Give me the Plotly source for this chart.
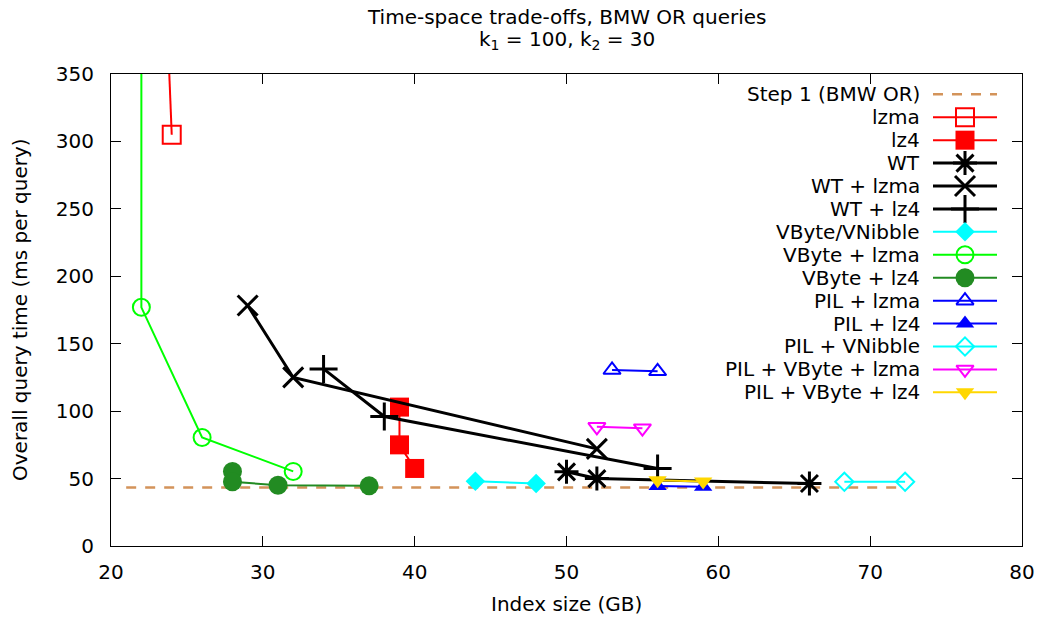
import plotly.graph_objects as go

# ---- data: index size (GB) vs overall query time (ms per query) ----
step1_x = [21, 72.2]
step1_y = [43.4, 43.4]

lzma_x = [23, 24]
lzma_y = [585, 305]

lz4_x = [39, 39, 40]
lz4_y = [103, 75, 57.5]

wt_x = [50, 52, 66]
wt_y = [55, 50, 46.3]

wt_lzma_x = [29, 32, 52]
wt_lzma_y = [178.3, 125, 72]

wt_lz4_x = [34, 38, 56]
wt_lz4_y = [131.3, 96, 57.5]

vbyte_x = [44, 48]
vbyte_y = [48.1, 46.3]

vbyte_lzma_x = [22, 22, 26, 32]
vbyte_lzma_y = [600, 177, 80.5, 55.3]

vbyte_lz4_x = [28, 28, 31, 37]
vbyte_lz4_y = [55.2, 47.6, 45.1, 44.6]

pil_lzma_x = [53, 56]
pil_lzma_y = [130.5, 129.5]

pil_lz4_x = [56, 59]
pil_lz4_y = [44.5, 44]

pil_vnibble_x = [68.3, 72.3]
pil_vnibble_y = [47.6, 47.6]

pil_vbyte_lzma_x = [52, 55]
pil_vbyte_lzma_y = [88.4, 87.4]

pil_vbyte_lz4_x = [56, 59]
pil_vbyte_lz4_y = [48.8, 47.8]

x_ticks = [20, 30, 40, 50, 60, 70, 80]
y_ticks = [0, 50, 100, 150, 200, 250, 300, 350]

title_line1 = "Time-space trade-offs, BMW OR queries"
title_line2 = "k<sub>1</sub> = 100, k<sub>2</sub> = 30"
x_title = "Index size (GB)"
y_title = "Overall query time (ms per query)"

FONT = "DejaVu Sans"
FS = 20

# name, x, y, color, line width, dash, marker symbol, marker size, marker line width
series = [
    ("Step 1 (BMW OR)", step1_x, step1_y, "#d3935a", 2.5, "10px,9px", None, 0, 0),
    ("lzma", lzma_x, lzma_y, "#ff0000", 2, "solid", "square-open", 18, 2),
    ("lz4", lz4_x, lz4_y, "#ff0000", 2, "solid", "square", 19, 0),
    ("WT", wt_x, wt_y, "#000000", 3, "solid", "asterisk-open", 20, 3),
    ("WT + lzma", wt_lzma_x, wt_lzma_y, "#000000", 3, "solid", "x-thin-open", 20, 3),
    ("WT + lz4", wt_lz4_x, wt_lz4_y, "#000000", 3, "solid", "cross-thin-open", 20, 3),
    ("VByte/VNibble", vbyte_x, vbyte_y, "#00ffff", 2, "solid", "diamond", 15, 0),
    ("VByte + lzma", vbyte_lzma_x, vbyte_lzma_y, "#00ff00", 2, "solid", "circle-open", 17, 2),
    ("VByte + lz4", vbyte_lz4_x, vbyte_lz4_y, "#228b22", 2, "solid", "circle", 19, 0),
    ("PIL + lzma", pil_lzma_x, pil_lzma_y, "#0000ff", 2, "solid", "triangle-up-open", 15, 2),
    ("PIL + lz4", pil_lz4_x, pil_lz4_y, "#0000ff", 2, "solid", "triangle-up", 16, 0),
    ("PIL + VNibble", pil_vnibble_x, pil_vnibble_y, "#00ffff", 2, "solid", "diamond-open", 14, 2),
    ("PIL + VByte + lzma", pil_vbyte_lzma_x, pil_vbyte_lzma_y, "#ff00ff", 2, "solid", "triangle-down-open", 15, 2),
    ("PIL + VByte + lz4", pil_vbyte_lz4_x, pil_vbyte_lz4_y, "#ffd700", 2, "solid", "triangle-down", 16, 0),
]

fig = go.Figure()

for name, xs, ys, color, lw, dash, sym, ms, mlw in series:
    mode = "lines" if sym is None else "lines+markers"
    marker = None
    if sym is not None:
        marker = dict(symbol=sym, size=ms, color=color,
                      line=dict(color=color, width=mlw))
    fig.add_trace(go.Scatter(
        x=xs, y=ys, mode=mode, name=name, showlegend=False,
        line=dict(color=color, width=lw, dash=dash),
        marker=marker, hoverinfo="skip", xaxis="x", yaxis="y",
    ))

# ---- key (text right-aligned, sample to its right), drawn on a hidden pixel-scaled overlay ----
PLOT_W = 911.0
PLOT_H = 471.5
key_x0, key_x1, key_xm = 822, 886, 854
key_text_x = 811
key_row0, key_step = 20.3, 22.9

for i, (name, xs, ys, color, lw, dash, sym, ms, mlw) in enumerate(series):
    yy = key_row0 + key_step * i
    fig.add_trace(go.Scatter(
        x=[key_x0, key_x1], y=[yy, yy], mode="lines", showlegend=False,
        line=dict(color=color, width=lw, dash=dash), hoverinfo="skip",
        xaxis="x2", yaxis="y2",
    ))
    if sym is not None:
        fig.add_trace(go.Scatter(
            x=[key_xm], y=[yy], mode="markers", showlegend=False,
            marker=dict(symbol=sym, size=ms, color=color,
                        line=dict(color=color, width=mlw)),
            hoverinfo="skip", xaxis="x2", yaxis="y2",
        ))
    fig.add_annotation(
        x=key_text_x, y=yy, xref="x2", yref="y2", text=name,
        showarrow=False, xanchor="right", yanchor="middle",
        font=dict(family=FONT, size=FS, color="black"),
    )

# ---- titles as annotations, offset in pixels from the plot frame ----
txt_font = dict(family=FONT, size=FS, color="black")
fig.add_annotation(x=0.5, xref="paper", y=1, yref="paper",
                   text=title_line1, showarrow=False, xanchor="center",
                   yanchor="middle", font=txt_font, yshift=(74 - 17))
fig.add_annotation(x=0.5, xref="paper", y=1, yref="paper",
                   text=title_line2, showarrow=False, xanchor="center",
                   yanchor="middle", font=txt_font, yshift=(74 - 40))
fig.add_annotation(x=0.5, xref="paper", y=0, yref="paper",
                   text=x_title, showarrow=False, xanchor="center",
                   yanchor="middle", font=txt_font, yshift=-(603 - 545.5))
fig.add_annotation(x=0, xref="paper", y=0.5, yref="paper",
                   text=y_title, showarrow=False, xanchor="center",
                   yanchor="middle", textangle=-90, font=txt_font,
                   xshift=-(111 - 20))

axis_common = dict(
    showline=True, linecolor="black", linewidth=1, mirror="allticks",
    ticks="inside", ticklen=10, tickwidth=1, tickcolor="black",
    showgrid=False, zeroline=False, automargin=False,
    tickfont=dict(family=FONT, size=FS, color="black"),
)

fig.update_layout(
    width=1040, height=618,
    margin=dict(l=111, r=18, t=74, b=72, pad=0, autoexpand=False),
    paper_bgcolor="white", plot_bgcolor="white",
    font=dict(family=FONT, size=FS, color="black"),
    showlegend=False,
    xaxis=dict(range=[20, 80], tickvals=x_ticks, ticklabelstandoff=8,
               **axis_common),
    yaxis=dict(range=[0, 350], tickvals=y_ticks, ticklabelstandoff=12,
               **axis_common),
    xaxis2=dict(range=[0, PLOT_W], overlaying="x", anchor="y2", visible=False,
                fixedrange=True),
    yaxis2=dict(range=[PLOT_H, 0], overlaying="y", anchor="x2", visible=False,
                fixedrange=True),
)

fig.write_html("out.html")
